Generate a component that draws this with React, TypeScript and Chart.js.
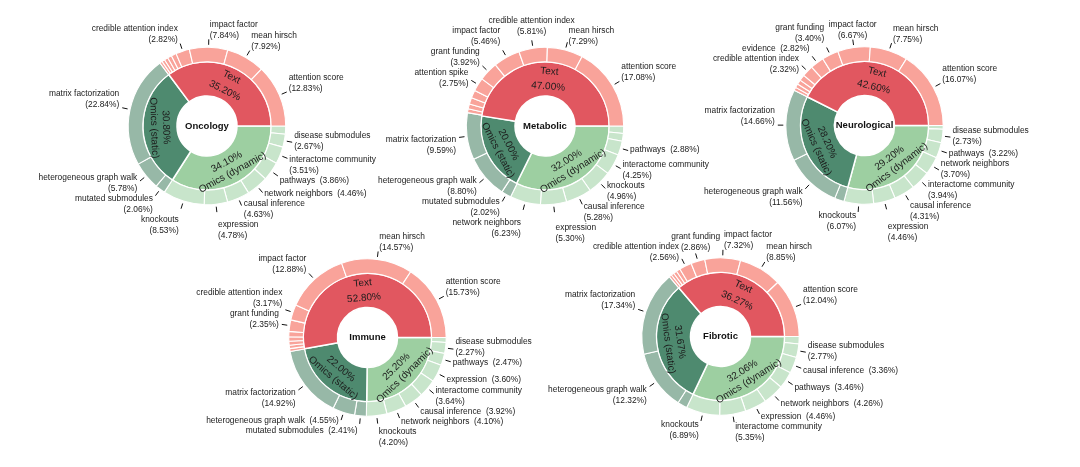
import React, { useEffect, useRef } from "react";
import { Chart, registerables } from "chart.js";
Chart.register(...registerables);

const W = 1080;
const H = 467;
const FONT = '"Liberation Sans", Arial, Helvetica, sans-serif';

const groupNames = ["Text", "Omics (static)", "Omics (dynamic)"];
const groupColors = ["#e15760", "#4e8a6f", "#9dcfa1"];
const subColors = ["#f9a39a", "#97b8a7", "#c8e5cb"];

// ---------- Oncology ----------
const oncologyGroupValues = [35.2, 30.8, 34.1];
const oncologySubNames = [
  "attention score", "mean hirsch", "impact factor", "credible attention index", "", "", "", "", "",
  "matrix factorization", "heterogeneous graph walk", "mutated submodules",
  "knockouts", "expression", "causal inference", "network neighbors", "pathways", "interactome community", "disease submodules", "",
];
const oncologySubValues = [
  12.83, 7.92, 7.84, 2.82, 1.05, 0.85, 0.75, 0.62, 0.52,
  22.84, 5.78, 2.06,
  8.53, 4.78, 4.63, 4.46, 3.86, 3.51, 2.67, 1.66,
];
const oncologySubGroups = [0, 0, 0, 0, 0, 0, 0, 0, 0, 1, 1, 1, 2, 2, 2, 2, 2, 2, 2, 2];
const oncologyInline = ["pathways", "network neighbors"];

// ---------- Metabolic ----------
const metabolicGroupValues = [47.0, 20.0, 32.0];
const metabolicSubNames = [
  "attention score", "mean hirsch", "credible attention index", "impact factor", "grant funding", "attention spike", "", "", "", "",
  "matrix factorization", "heterogeneous graph walk", "mutated submodules",
  "network neighbors", "expression", "causal inference", "knockouts", "interactome community", "pathways", "", "",
];
const metabolicSubValues = [
  17.08, 7.29, 5.81, 5.46, 3.92, 2.75, 1.6, 1.3, 1.0, 0.79,
  9.59, 8.8, 2.02,
  6.23, 5.3, 5.28, 4.96, 4.25, 2.88, 1.6, 1.5,
];
const metabolicSubGroups = [0, 0, 0, 0, 0, 0, 0, 0, 0, 0, 1, 1, 1, 2, 2, 2, 2, 2, 2, 2, 2];
const metabolicInline = ["pathways"];

// ---------- Neurological ----------
const neuroGroupValues = [42.6, 28.2, 29.2];
const neuroSubNames = [
  "attention score", "mean hirsch", "impact factor", "grant funding", "evidence", "credible attention index", "", "", "", "",
  "matrix factorization", "heterogeneous graph walk", "",
  "knockouts", "expression", "causal inference", "interactome community", "network neighbors", "pathways", "disease submodules", "",
];
const neuroSubValues = [
  16.07, 7.75, 6.67, 3.4, 2.82, 2.32, 1.2, 0.95, 0.77, 0.65,
  14.66, 11.56, 1.98,
  6.07, 4.46, 4.31, 3.94, 3.7, 3.22, 2.73, 0.77,
];
const neuroSubGroups = [0, 0, 0, 0, 0, 0, 0, 0, 0, 0, 1, 1, 1, 2, 2, 2, 2, 2, 2, 2, 2];
const neuroInline = ["evidence", "pathways"];

// ---------- Immune ----------
const immuneGroupValues = [52.8, 22.0, 25.2];
const immuneSubNames = [
  "attention score", "mean hirsch", "impact factor", "credible attention index", "grant funding", "", "", "", "", "",
  "matrix factorization", "heterogeneous graph walk", "mutated submodules",
  "knockouts", "network neighbors", "causal inference", "interactome community", "expression", "pathways", "disease submodules", "",
];
const immuneSubValues = [
  15.73, 14.57, 12.88, 3.17, 2.35, 1.1, 0.9, 0.8, 0.7, 0.6,
  14.92, 4.55, 2.41,
  4.2, 4.1, 3.92, 3.64, 3.6, 2.47, 2.27, 1.0,
];
const immuneSubGroups = [0, 0, 0, 0, 0, 0, 0, 0, 0, 0, 1, 1, 1, 2, 2, 2, 2, 2, 2, 2, 2];
const immuneInline = ["heterogeneous graph walk", "mutated submodules", "network neighbors", "causal inference", "expression", "pathways"];

// ---------- Fibrotic ----------
const fibroticGroupValues = [36.27, 31.67, 32.06];
const fibroticSubNames = [
  "attention score", "mean hirsch", "impact factor", "grant funding", "credible attention index", "", "", "", "",
  "matrix factorization", "heterogeneous graph walk", "",
  "knockouts", "interactome community", "expression", "network neighbors", "pathways", "causal inference", "disease submodules", "",
];
const fibroticSubValues = [
  12.04, 8.85, 7.32, 2.86, 2.56, 0.8, 0.7, 0.6, 0.54,
  17.34, 12.32, 2.01,
  6.89, 5.35, 4.46, 4.26, 3.46, 3.36, 2.77, 1.51,
];
const fibroticSubGroups = [0, 0, 0, 0, 0, 0, 0, 0, 0, 1, 1, 1, 2, 2, 2, 2, 2, 2, 2, 2];
const fibroticInline = ["causal inference", "pathways", "network neighbors", "expression"];

type Spec = {
  title: string;
  cx: number;
  cy: number;
  groupValues: number[];
  subNames: string[];
  subValues: number[];
  subGroups: number[];
  inline: string[];
};

const specs: Spec[] = [
  { title: "Oncology", cx: 207, cy: 126, groupValues: oncologyGroupValues, subNames: oncologySubNames, subValues: oncologySubValues, subGroups: oncologySubGroups, inline: oncologyInline },
  { title: "Metabolic", cx: 545, cy: 126, groupValues: metabolicGroupValues, subNames: metabolicSubNames, subValues: metabolicSubValues, subGroups: metabolicSubGroups, inline: metabolicInline },
  { title: "Neurological", cx: 864.5, cy: 125.5, groupValues: neuroGroupValues, subNames: neuroSubNames, subValues: neuroSubValues, subGroups: neuroSubGroups, inline: neuroInline },
  { title: "Immune", cx: 367.5, cy: 337.5, groupValues: immuneGroupValues, subNames: immuneSubNames, subValues: immuneSubValues, subGroups: immuneSubGroups, inline: immuneInline },
  { title: "Fibrotic", cx: 720.5, cy: 336.5, groupValues: fibroticGroupValues, subNames: fibroticSubNames, subValues: fibroticSubValues, subGroups: fibroticSubGroups, inline: fibroticInline },
];

const R_OUT = 78.5;
const HOLE = 30;
const OUTER_W = 14.5;
const INNER_W = 34;
const BORDER = 1.5;

const fmt = (v: number) => v.toFixed(2) + "%";

type Label = {
  x: number; // left of block
  y: number; // center of first line
  w: number;
  widths: number[];
  lines: string[];
  align: "left" | "right" | "center";
  ux: number;
  uy: number;
};

const LINE_H = 11;
const GLYPH_HALF = 4;

function lineRects(L: Label) {
  return L.lines.map((_, k) => {
    const wk = L.widths[k];
    const x0 = L.align === "left" ? L.x : L.align === "right" ? L.x + L.w - wk : L.x + (L.w - wk) / 2;
    const yc = L.y + k * LINE_H;
    return { x0, x1: x0 + wk, y0: yc - GLYPH_HALF, y1: yc + GLYPH_HALF };
  });
}

function makePlugin(spec: Spec, names: string[], values: number[], gValues: number[], gNames: string[]) {
  return {
    id: "sunLabels" + spec.title,
    afterDraw(chart: any) {
      const ctx: CanvasRenderingContext2D = chart.ctx;
      const outer = chart.getDatasetMeta(0).data;
      const inner = chart.getDatasetMeta(1).data;
      ctx.save();
      // inner ring labels
      inner.forEach((arc: any, i: number) => {
        const p = arc.getProps(["x", "y", "startAngle", "endAngle", "innerRadius", "outerRadius"], true);
        const a = (p.startAngle + p.endAngle) / 2;
        const r = (p.innerRadius + p.outerRadius) / 2;
        const px = p.x + Math.cos(a) * r;
        const py = p.y + Math.sin(a) * r;
        const upper = Math.sin(a) < 0;
        const rot = upper ? a + Math.PI / 2 : a - Math.PI / 2;
        const lines = upper ? [gNames[i], fmt(gValues[i])] : [fmt(gValues[i]), gNames[i]];
        const gap = gNames[i] === "Text" ? 15 : 12;
        ctx.save();
        ctx.translate(px, py);
        ctx.rotate(rot);
        ctx.font = `10px ${FONT}`;
        ctx.fillStyle = "#1c1c1c";
        ctx.textAlign = "center";
        ctx.textBaseline = "middle";
        ctx.fillText(lines[0], 0, -gap / 2);
        ctx.fillText(lines[1], 0, gap / 2);
        ctx.restore();
      });
      // center title
      const c0 = outer[0].getProps(["x", "y"], true);
      ctx.font = `bold 9.5px ${FONT}`;
      ctx.fillStyle = "#111";
      ctx.textAlign = "center";
      ctx.textBaseline = "middle";
      ctx.fillText(spec.title, c0.x, c0.y);

      // outer labels
      ctx.font = `8.4px ${FONT}`;
      const labels: Label[] = [];
      let R = 0;
      let cx = 0;
      let cy = 0;
      outer.forEach((arc: any, i: number) => {
        const name = names[i];
        if (!name) return;
        const p = arc.getProps(["x", "y", "startAngle", "endAngle", "outerRadius"], true);
        R = p.outerRadius;
        cx = p.x;
        cy = p.y;
        const a = (p.startAngle + p.endAngle) / 2;
        const ux = Math.cos(a);
        const uy = Math.sin(a);
        const lines = spec.inline.includes(name) ? [name + "  (" + fmt(values[i]) + ")"] : [name, "(" + fmt(values[i]) + ")"];
        const widths = lines.map((l) => ctx.measureText(l).width);
        const w = Math.max(...widths);
        const n = lines.length;
        const ax = p.x + ux * (R + 9);
        const ay = p.y + uy * (R + 9);
        let align: "left" | "right" | "center" = ux >= 0 ? "left" : "right";
        if (uy < -0.9 && ux < 0 && ux > -0.3) align = "center";
        const x = align === "left" ? ax + 1 : align === "right" ? ax - 2 - w : ax - w / 2;
        let y: number;
        if (uy <= 0) y = ay - 3 - (n - 1) * LINE_H;
        else if (uy < 0.3 && ux > 0) y = ay - 1 - ((n - 1) * LINE_H) / 2;
        else y = ay + 2.5;
        labels.push({ x, y, w, widths, lines, align, ux, uy });
      });
      // relax overlaps
      const pad = 2;
      for (let it = 0; it < 250; it++) {
        for (let i = 0; i < labels.length; i++) {
          for (let j = i + 1; j < labels.length; j++) {
            const A = labels[i];
            const B = labels[j];
            const ra = lineRects(A);
            const rb = lineRects(B);
            let best: { ox: number; oy: number } | null = null;
            for (const p of ra) {
              for (const q of rb) {
                const ox = Math.min(p.x1, q.x1) - Math.max(p.x0, q.x0) + pad;
                const oy = Math.min(p.y1, q.y1) - Math.max(p.y0, q.y0) + pad;
                if (ox > 0 && oy > 0) {
                  if (!best || Math.min(ox, oy) > Math.min(best.ox, best.oy)) best = { ox, oy };
                }
              }
            }
            if (best) {
              const acx = A.x + A.w / 2;
              const bcx = B.x + B.w / 2;
              const acy = A.y + ((A.lines.length - 1) * LINE_H) / 2;
              const bcy = B.y + ((B.lines.length - 1) * LINE_H) / 2;
              const sideBySide = A.uy > 0.85 && B.uy > 0.85 && A.align !== B.align;
              if (best.oy <= best.ox && !sideBySide) {
                const s = best.oy / 2;
                if (acy <= bcy) { A.y -= s; B.y += s; } else { A.y += s; B.y -= s; }
              } else {
                const s = best.ox / 2;
                if (acx <= bcx) { A.x -= s; B.x += s; } else { A.x += s; B.x -= s; }
              }
            }
          }
        }
        for (const L of labels) {
          for (const r of lineRects(L)) {
            const nx = Math.max(r.x0, Math.min(cx, r.x1));
            const ny = Math.max(r.y0, Math.min(cy, r.y1));
            const d = Math.hypot(nx - cx, ny - cy);
            const minD = R + 3;
            if (d < minD) {
              const bx = (r.x0 + r.x1) / 2 - cx;
              const by = (r.y0 + r.y1) / 2 - cy;
              const Ln = Math.hypot(bx, by) || 1;
              L.x += (bx / Ln) * (minD - d);
              L.y += (by / Ln) * (minD - d);
            }
          }
        }
      }
      ctx.strokeStyle = "#111";
      ctx.lineWidth = 1;
      ctx.fillStyle = "#1a1a1a";
      ctx.textBaseline = "middle";
      for (const L of labels) {
        ctx.beginPath();
        ctx.moveTo(cx + L.ux * (R + 2.5), cy + L.uy * (R + 2.5));
        ctx.lineTo(cx + L.ux * (R + 8), cy + L.uy * (R + 8));
        ctx.stroke();
        L.lines.forEach((l, k) => {
          const ty = L.y + LINE_H * k;
          if (L.align === "left") {
            ctx.textAlign = "left";
            ctx.fillText(l, L.x, ty);
          } else if (L.align === "right") {
            ctx.textAlign = "right";
            ctx.fillText(l, L.x + L.w, ty);
          } else {
            ctx.textAlign = "center";
            ctx.fillText(l, L.x + L.w / 2, ty);
          }
        });
      }
      ctx.restore();
    },
  };
}

function SunburstCanvas({ spec }: { spec: Spec }) {
  const ref = useRef<HTMLCanvasElement | null>(null);
  useEffect(() => {
    if (!ref.current) return;
    const names = spec.subNames.slice().reverse();
    const values = spec.subValues.slice().reverse();
    const colors = spec.subGroups.map((g) => subColors[g]).reverse();
    const gValues = spec.groupValues.slice().reverse();
    const gNames = groupNames.slice().reverse();
    const gColors = groupColors.slice().reverse();
    const half = R_OUT + BORDER / 2;
    const chart = new Chart(ref.current, {
      type: "doughnut",
      data: {
        labels: names,
        datasets: [
          { data: values, backgroundColor: colors, borderColor: "#ffffff", borderWidth: 1.1, hoverBorderWidth: 1.1, hoverOffset: 0, offset: 0, weight: OUTER_W } as any,
          { data: gValues, backgroundColor: gColors, borderColor: "#ffffff", borderWidth: BORDER, hoverBorderWidth: BORDER, hoverOffset: 0, offset: 0, weight: INNER_W } as any,
        ],
      },
      options: {
        responsive: false,
        animation: false,
        events: [],
        rotation: 90,
        cutout: HOLE,
        layout: {
          padding: {
            left: spec.cx - half,
            right: W - spec.cx - half,
            top: spec.cy - half,
            bottom: H - spec.cy - half,
          },
        },
        plugins: { legend: { display: false }, tooltip: { enabled: false } },
      } as any,
      plugins: [makePlugin(spec, names, values, gValues, gNames)],
    });
    return () => chart.destroy();
  }, [spec]);
  return <canvas ref={ref} width={W} height={H} style={{ position: "absolute", left: 0, top: 0, width: W, height: H }} />;
}

export default function App() {
  return (
    <div style={{ position: "fixed", left: 0, top: 0, width: W, height: H, background: "#ffffff", overflow: "hidden" }}>
      {specs.map((s) => (
        <SunburstCanvas key={s.title} spec={s} />
      ))}
    </div>
  );
}
